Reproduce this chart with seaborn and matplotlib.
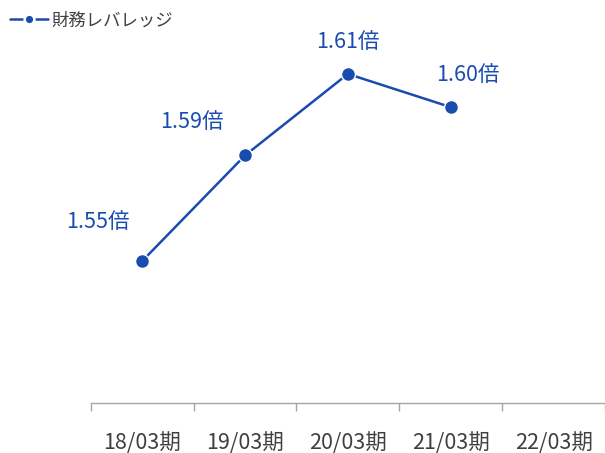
import numpy as np
import pandas as pd
import matplotlib
matplotlib.use("Agg")
import matplotlib.pyplot as plt
import seaborn as sns

# ─────────────────────────────────────────────
# Data
# ─────────────────────────────────────────────
periods = ["18/03期", "19/03期", "20/03期", "21/03期", "22/03期"]
leverage = [1.552, 1.587, 1.614, 1.603]          # 22/03期: no value
value_labels = ["1.55倍", "1.59倍", "1.61倍", "1.60倍"]
series_name = "財務レバレッジ"

# label offsets (points) relative to each marker
label_offsets = [(-32, 28), (-38, 24), (0, 23), (12, 23)]

BLUE = "#1A4BAF"
GREY_TEXT = "#404040"

sns.set_theme(style="white")
plt.rcParams["font.family"] = ["Noto Sans CJK JP", "DejaVu Sans"]

df = pd.DataFrame({"pos": np.arange(len(leverage)), "value": leverage})

fig = plt.figure(figsize=(6.05, 4.53), dpi=100)
ax = fig.add_axes([0.15, 0.11, 0.85, 0.89])

sns.lineplot(
    data=df, x="pos", y="value", ax=ax,
    color=BLUE, linewidth=1.8, marker="o", markersize=10,
    markeredgecolor="white", markeredgewidth=1.0,
    label=series_name,
)

for i, (v, txt) in enumerate(zip(leverage, value_labels)):
    ax.annotate(txt, (i, v), xytext=label_offsets[i], textcoords="offset points",
                ha="center", va="center", color=BLUE, fontsize=15.5)

ax.set_xlim(-0.5, len(periods) - 0.5)
ax.set_ylim(1.5049, 1.6385)

# category labels at centres, tick marks at boundaries
ax.set_xticks(np.arange(len(periods)))
ax.set_xticklabels(periods, color=GREY_TEXT, fontsize=15.5)
ax.set_xticks(np.arange(len(periods) + 1) - 0.5, minor=True)
ax.tick_params(axis="x", which="major", length=0, pad=21)
ax.tick_params(axis="x", which="minor", length=6, width=1, color="#A6A6A6",
               direction="out", bottom=True)
ax.set_yticks([])
ax.set_xlabel("")
ax.set_ylabel("")

for side in ["top", "right", "left"]:
    ax.spines[side].set_visible(False)
ax.spines["bottom"].set_color("#A6A6A6")
ax.spines["bottom"].set_linewidth(1)

leg = ax.legend(loc="upper left", bbox_to_anchor=(0.005, 0.99), bbox_transform=fig.transFigure,
                frameon=False, fontsize=12.5, handlelength=2.2, handletextpad=0.2,
                borderaxespad=0)
for h in leg.legend_handles:
    h.set_markersize(7)
    h.set_markeredgewidth(1.8)
for t in leg.get_texts():
    t.set_color(GREY_TEXT)

fig.savefig("out.png", dpi=100)
